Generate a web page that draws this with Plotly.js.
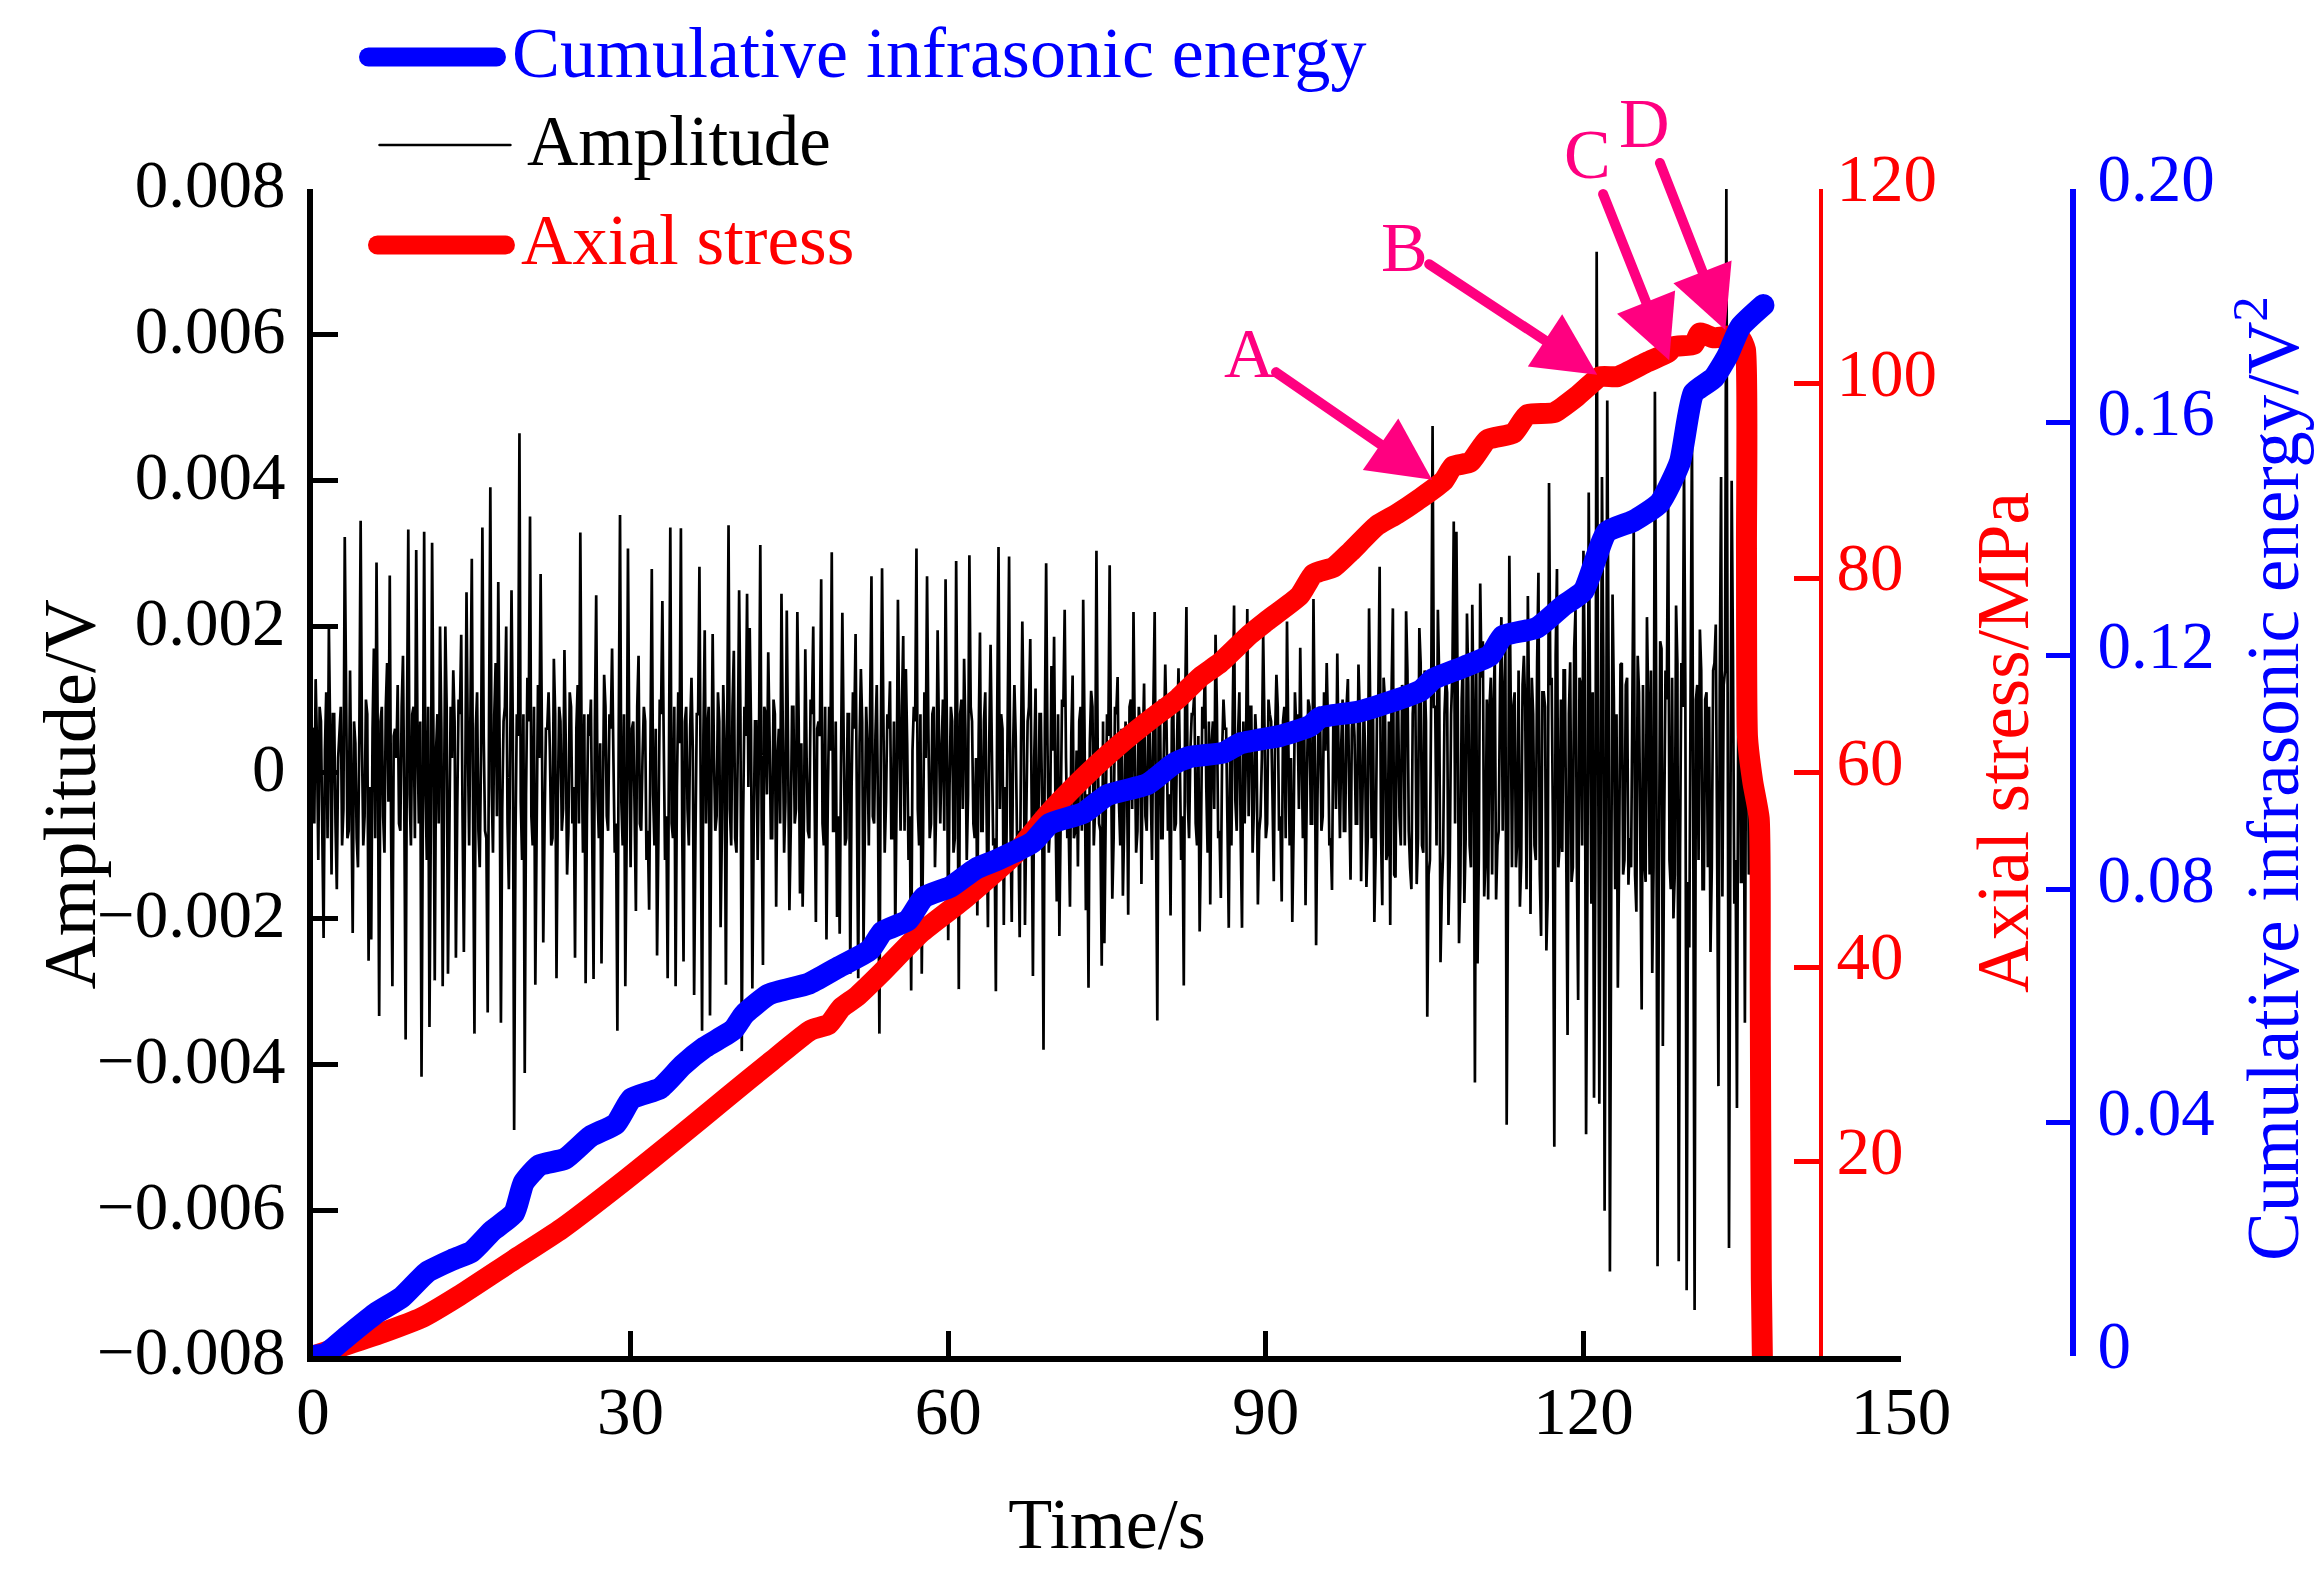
<!DOCTYPE html>
<html>
<head>
<meta charset="utf-8">
<script src="https://cdn.plot.ly/plotly-3.0.1.min.js"></script>
<style>
html,body{margin:0;padding:0;background:#fff}
.js-line,.shapelayer path,.annotation path{stroke-linecap:round}
</style>
</head>
<body>
<div id="chart" style="width:2323px;height:1579px"></div>
<script>
// ---- Data ----
var sampleStep = 0.125; // s between amplitude samples
var amplitudeMilliVolt = [
0.6,1.28,-1.2,0.7,-2.27,1.1,1.99,-1.4,0.8,-1.6,
0.5,-1.0,3.23,-0.9,1.4,-2.2,0.4,-1.3,3.45,-1.0,
1.0,-2.58,-2.29,1.7,2.88,-3.34,0.9,-1.1,1.5,2.7,
-2.93,0.6,1.2,-0.8,1.6,-3.66,3.33,-1.0,0.9,3.05,
-0.7,-4.17,3.3,-1.2,-3.49,3.15,-2.85,0.8,2.0,-2.93,
2.0,-2.76,0.9,1.4,-2.54,1.0,1.89,-2.46,2.47,-1.0,
2.93,-3.58,1.1,-1.3,3.36,-0.8,-3.29,3.91,-1.1,1.5,
2.61,-3.43,0.7,2.0,-1.6,2.5,-4.9,0.8,4.65,-1.2,
-4.12,1.3,3.51,-1.0,-2.91,1.2,2.72,-2.33,0.6,1.1,
-1.0,1.56,-2.82,0.9,-0.8,1.68,-1.4,1.1,-0.7,-2.54,
1.2,3.29,-1.1,-2.89,0.8,1.0,-2.83,2.43,-0.9,-2.62,
1.34,-0.6,0.8,1.7,-1.1,-3.54,3.53,-1.0,-2.93,3.07,
-1.3,0.7,-1.9,1.6,-0.8,0.9,-1.2,-1.88,2.79,-1.0,
-2.51,1.0,2.35,-1.2,-2.82,3.36,-0.9,-2.93,1.1,3.35,
-2.59,0.9,-1.0,1.3,-3.05,0.8,2.82,-3.54,1.95,0.6,
-3.33,1.9,-0.8,1.1,-2.12,1.2,-2.91,3.39,-1.0,1.67,
-1.1,2.5,-3.82,0.9,2.45,1.98,-2.96,0.7,-1.2,3.12,
-2.64,0.8,1.65,-0.9,1.0,-1.84,0.6,2.45,-1.1,2.22,
-1.89,0.9,-0.7,2.2,-1.66,-1.84,1.69,-0.8,1.0,2.0,
-2.05,0.7,2.65,-1.0,-2.29,0.9,3.02,-0.8,-1.98,-2.21,
2.19,-1.0,0.8,-2.76,1.1,1.9,-2.82,1.42,-2.36,0.9,
-1.0,2.69,-0.7,1.2,-3.58,2.8,-1.1,0.8,1.25,-0.9,
-2.21,2.37,-0.8,1.87,1.42,-1.2,-2.99,0.9,3.07,-1.0,
-2.76,1.1,2.69,-0.9,0.8,-1.3,1.95,-0.7,1.0,2.65,
-2.3,0.9,-1.1,2.9,-2.97,1.0,1.56,-1.2,2.98,0.7,
-0.9,-1.96,1.92,-0.8,1.1,-2.12,1.75,-1.0,-3.0,3.09,
0.8,-2.09,-1.0,2.96,-2.05,1.2,-0.9,-2.26,2.07,-2.09,
0.7,1.83,-2.79,1.15,-1.0,0.8,-3.8,2.87,-1.1,
1.46,1.86,-1.77,-2.24,1.0,2.23,-0.9,-1.84,1.33,-0.8,-1.29,
0.9,2.37,-1.89,-2.95,1.12,-1.0,3.04,-0.7,-2.65,-2.34,
0.8,2.84,-1.73,0.9,1.31,-1.0,-1.69,0.7,-1.95,1.0,
2.2,-1.1,0.9,-1.53,1.22,-0.8,0.7,-1.2,2.2,-3.4,
1.0,-0.9,1.48,-0.8,-1.96,1.1,-0.7,1.43,-1.2,-2.92,
2.27,-0.9,0.8,1.1,-1.0,-2.18,0.9,1.51,-1.1,-1.81,
0.7,1.89,-0.9,-1.72,1.0,0.6,-2.13,-1.0,2.29,-0.8,
1.1,-2.13,-0.7,2.24,0.9,-1.1,0.8,-1.81,-0.6,1.89,
-0.9,1.0,0.7,-1.49,1.34,-0.8,-1.77,0.9,2.07,-1.0,
-2.05,1.1,0.8,1.71,-0.9,-1.82,1.0,-0.7,2.38,-2.37,
0.9,-0.8,1.1,1.5,-1.0,-1.61,0.7,1.63,-0.9,1.0,
-0.8,1.28,-1.47,0.9,-0.7,1.48,-1.49,1.0,-1.57,2.25,
-0.9,-2.05,0.8,2.82,-1.82,1.0,-1.1,-2.09,2.25,-1.44,
0.9,-1.0,1.1,2.21,-0.8,-1.6,1.2,-1.53,
1.98,-1.0,1.4,-3.35,-1.2,4.75,0.9,2.23,-2.6,-1.1,
1.3,-2.09,0.8,3.44,3.3,-2.34,1.0,-1.79,2.18,-1.0,
2.3,-4.25,-2.62,2.59,1.8,-1.2,-1.74,1.3,0.9,-1.74,
-0.8,2.13,1.0,-4.83,2.97,-1.3,1.1,-0.9,-1.84,1.2,
0.9,2.42,-1.94,0.8,-1.2,2.74,-2.24,1.1,
-2.44,3.97,1.3,-5.13,2.79,-1.0,-1.09,1.4,-3.6,1.51,
-1.3,2.23,-3.12,1.2,3.04,-4.96,3.84,-1.8,-4.46,7.14,
-4.54,4.05,-6.01,5.1,-6.84,2.44,-1.6,-2.95,1.48,-1.4,
1.2,-1.54,-1.3,3.39,-1.91,1.1,-3.25,-1.2,2.13,
-1.4,-2.75,5.22,-6.77,1.8,-3.75,1.4,3.89,-1.6,-2.0,
2.29,-6.7,1.5,4.25,-7.1,-2.4,4.7,-7.37,1.2,1.96,
-1.6,1.0,-1.3,-2.46,1.4,2.03,-4.3,4.05,1.2,8.0,
-6.52,4.0,-1.8,-4.6,2.0,-1.5,-3.43,1.6,-1.0,3.49,0
];
// lower samples that fill the dense band between the visible spikes
var amplitudeBetween = [
-0.7,0.4,0.9,-0.6,0.3,-0.9,0.5,0.8,-0.7,0.2,0.9,-0.5,0.6,-0.8,-0.3,0.7,-0.9,0.5,0.4,-0.6,
0.8,-0.2,0.6,-0.9,0.3,0.7,-0.6,0.9,-0.4,-0.8,0.5,0.2,-0.7,0.9,-0.5,0.6,-0.3,0.8,-0.9,0.4,
0.7,-0.6,-0.2,0.9,-0.8,0.5,0.3,-0.7,0.6,-0.4,0.9,-0.9,0.2,0.7,-0.5,0.8,-0.6,-0.3,0.4,0.9,
-0.7,0.6,-0.8,0.3,0.5,-0.9,0.7,-0.2,0.8,-0.6,0.4,-0.5,0.9,-0.7,0.3,0.6,-0.9,0.5,-0.4,0.8,
-0.3,0.7,-0.6,0.9,-0.8,0.2,0.5,-0.7,0.6,0.3,-0.9,0.8,-0.4,0.7,-0.5,0.4,-0.8,0.9,-0.2,0.6,
-0.7,0.3,0.8,-0.6,0.5,-0.9,0.7,-0.3,0.4,-0.5,0.9,-0.8,0.6,0.2,-0.7,0.5,-0.4,0.8,-0.9,0.3,
0.6,-0.5,0.9,-0.7,0.2,0.7,-0.8,0.4,-0.3,0.6,-0.9,0.8,0.5,-0.6,0.3,-0.7,0.9,-0.2,0.4,-0.8,
0.7,-0.5,0.6,0.3,-0.9,0.8,-0.4,0.5,-0.7,0.9,-0.3,0.2,-0.6,0.7,-0.8,0.4,0.6,-0.5,0.9,-0.9,
0.3,0.8,-0.7,0.5,-0.2,0.6,-0.8,0.7,0.4,-0.6,0.9,-0.3,0.5,-0.9,0.8,0.2,-0.7,0.6,-0.4,0.3,
-0.8,0.9,-0.5,0.7,0.4,-0.6,0.2,-0.9,0.8,-0.3,0.6,0.5,-0.7,0.9,-0.4,0.3,-0.8,0.7,-0.6,0.2,
0.5,-0.9,0.8,-0.2,0.6,-0.5,0.4,0.7,-0.8,0.3,0.9,-0.6,0.5,-0.7,0.2,0.8,-0.4,0.6,-0.9,0.7,
-0.3,0.5,0.9,-0.8,0.4,-0.6,0.3,0.7,-0.5,0.8,-0.9,0.2,0.6,-0.7,0.9,-0.4,0.5,0.3,-0.8,0.6,
-0.2,0.7,-0.9,0.4,0.8,-0.5,0.6,-0.3,0.9,-0.7,0.2,0.5,-0.8,0.7,-0.6,0.4,0.3,-0.9,0.8,-0.5,
0.6,-0.2,0.9,-0.7,0.3,0.5,-0.8,0.4,0.7,-0.6,0.9,-0.3,0.2,-0.9,0.8,-0.5,0.6,0.4,-0.7,0.3,
-0.4,0.8,-0.6,0.9,0.2,-0.7,0.5,-0.9,0.3,0.7,-0.8,0.6,-0.3,0.4,0.9,-0.5,0.2,-0.8,0.7,-0.6,
0.5,0.3,-0.9,0.8,-0.4,0.6,-0.7,0.2,0.9,-0.5,0.4,-0.8,0.7,0.3,-0.6,0.5,-0.2,0.9,-0.7,0.8,
-0.9,0.4,0.6,-0.3,0.7,-0.8,0.5,0.2,-0.6,0.9,-0.4,0.3,0.8,-0.7,0.5,-0.9,0.6,-0.2,0.7,0.4,
-0.5,0.9,-0.8,0.3,0.6,-0.7,0.2,0.8,-0.4,0.5,-0.9,0.7,0.3,-0.6,0.9,-0.5,0.4,-0.8,0.2,0.6,
-0.7,0.8,-0.3,0.5,0.9,-0.6,0.7,-0.9,0.4,0.2,-0.8,0.6,-0.5,0.3,0.7,-0.2,0.9,-0.7,0.5,-0.4,
0.8,-0.6,0.3,0.6,-0.9,0.7,-0.5,0.2,0.4,-0.8,0.9,-0.3,0.6,0.5,-0.7,0.8,-0.4,0.3,-0.9,0.7,
0.9,-1.1,1.0,-0.8,1.3,-1.2,0.7,1.1,-1.4,0.9,-0.6,1.2,-1.0,1.4,-1.3,0.8,1.0,-0.9,1.5,-1.1,
0.7,-1.4,1.2,0.9,-1.0,1.3,-1.6,0.8,1.1,-1.2,1.4,-0.7,1.0,-1.5,1.6,-0.9,1.2,-1.3,0.8,1.5,
-1.1,1.3,-1.7,1.0,0.9,-1.4,1.6,-1.0,1.2,-0.8,1.7,-1.5,1.1,0.9,-1.3,1.4,-1.2,1.6,-1.6,0.8,
1.3,-1.0,1.5,-1.4,1.1,0.9,-1.7,1.2,-0.9,1.6,-1.3,1.0,1.4,-1.1,0.8,-1.5,1.7,-1.2,1.3,-1.0,
1.5,-1.6,0.9,1.1,-1.4,1.2,-0.8,1.6,-1.3,1.4,-1.7,1.0,0.8,-1.1,1.5,-1.2,1.3,-0.9,1.0,-1.4,
1.6,-1.0,1.2,-1.5,0.9,1.4,-1.3,1.1,-1.6,1.7,-0.8,1.0,-1.2,1.3,-1.4,1.5,-1.1,0.9,1.2,-1.5,
1.3,-0.9,1.0,-1.2,1.4,-1.6,1.1,0.9,-1.3,1.5,-1.0,1.2,-1.7,1.4,0.8,-1.1,1.6,-1.2,1.0,-1.5,
0.9,1.3,-1.4,1.1,-0.8,1.5,-1.3,1.2,-1.0,1.4,0.9,-1.6,1.3,-1.1,1.0,-1.2,1.5,-0.9,1.1,-1.4
];
var stressTime = [0,3.6,6.6,10.2,13.8,18.7,23.5,29.5,34.3,39.1,43.4,47.0,48.7,49.9,51.4,53.6,57.4,61.4,66.2,69.5,72.8,76,79.4,80.5,81.7,83.8,85.7,88.5,90.1,93.2,94.5,96.4,98,100.5,102.4,104.6,106.8,107.7,109.3,110.9,113.4,114.7,117.2,119.4,121.6,123.2,126,128,128.5,130.4,131,132.3,134,134.8,135.3,135.4,135.5,136,136.6,136.7,136.8,136.9];
var stressMPa = [0,1.3,2.4,3.9,6.2,9.7,13.1,18.1,22.3,26.6,30.4,33.5,34.1,35.8,37,39.3,43.5,46.9,51.5,55.8,59.5,62.7,65.7,66.6,67.6,69.8,71.3,74.2,75.6,78.2,80.4,81.1,82.7,85.4,86.6,88.2,90,91.5,91.9,94.2,94.9,96.8,97,98.7,100.7,100.7,102.2,103.2,103.8,104,105.2,104.7,104.9,104.7,103.5,83,63.6,59,55.3,38,8,0];
var energyTime = [0,1.2,3.3,6,8.4,10.8,13.3,15,16.9,19,19.9,21.4,23.8,26.2,28.6,30.1,32.8,34.9,37,39.7,40.7,43.1,46.8,49.4,52.6,53.8,56.2,57.7,60.2,62.6,64.6,68,69.6,72.8,75,78.8,81.3,82.9,86,87.6,91.4,94.2,95.1,98.9,104.6,105.8,108.4,111.2,112.4,115.6,118.1,120,122.2,124.7,127.2,129.1,130.4,132.3,133.6,134.8,137];
var energyV2 = [0,0.0004,0.0035,0.0074,0.0101,0.0144,0.0166,0.0179,0.0214,0.0245,0.0297,0.0327,0.0338,0.0376,0.0398,0.0441,0.0459,0.0498,0.0529,0.0559,0.0585,0.062,0.0638,0.0664,0.0696,0.0727,0.0747,0.0786,0.0804,0.0835,0.085,0.0881,0.0912,0.0931,0.0961,0.098,0.1015,0.1027,0.1034,0.105,0.1063,0.108,0.1094,0.1105,0.114,0.116,0.1179,0.1201,0.1234,0.1248,0.1286,0.1311,0.1412,0.1431,0.1462,0.1531,0.165,0.1676,0.1714,0.1763,0.1801];
var timeTicks = [0,30,60,90,120,150];
var amplitudeTicks = [0.008,0.006,0.004,0.002,0,-0.002,-0.004,-0.006,-0.008];
var amplitudeTickLabels = ['0.008','0.006','0.004','0.002','0','\u22120.002','\u22120.004','\u22120.006','\u22120.008'];
var stressTicks = [20,40,60,80,100,120];
var energyTicks = [0,0.04,0.08,0.12,0.16,0.20];
var energyTickLabels = ['0','0.04','0.08','0.12','0.16','0.20'];
var markerNames = ['A','B','C','D'];
var markerTime = [105.7,121.3,128.1,133.4];
var markerStress = [90.1,100.9,102.4,105.5];

// ---- Layout constants ----
var W=2323,H=1579,L=312.5,R=2073,T=189,B=1356,XEND=1901,REDX=1821;
var FONT='"Liberation Serif","Times New Roman",serif';
var RED='#ff0000',BLUE='#0000ff',PINK='#ff0080',BLACK='#000000';
function px(x){return (x-L)/(R-L);}
function py(y){return (B-y)/(B-T);}
function label(text,x,y,size,color,angle,xa){
  return {text:text,xref:'paper',yref:'paper',x:px(x),y:py(y),xanchor:xa||'center',yanchor:'middle',
    showarrow:false,textangle:angle||0,font:{family:FONT,size:size,color:color}};
}
function lineShape(x0,x1,y,color,w){
  return {type:'line',xref:'paper',yref:'paper',x0:px(x0),x1:px(x1),y0:py(y),y1:py(y),line:{color:color,width:w}};
}
var labelDx=[-183,-193,-82,-81], labelDy=[-126,-127,-206,-207];
var annotations=[
  label('Cumulative infrasonic energy',510,53,72,BLUE,0,'left'),
  label('Amplitude',525,141,71,BLACK,0,'left'),
  label('Axial stress',519,240,71,RED,0,'left'),
  label('Amplitude/V',69,794,74,BLACK,-90),
  label('Axial stress/MPa',2003,743,73,RED,-90),
  label('Cumulative infrasonic energy/V<sup>2</sup>',2268,778,73,BLUE,-90)
];
markerNames.forEach(function(n,i){
  annotations.push({text:n,xref:'x',yref:'y2',x:markerTime[i],y:markerStress[i],axref:'pixel',ayref:'pixel',
    ax:labelDx[i],ay:labelDy[i],showarrow:true,arrowhead:2,arrowsize:1.25,arrowwidth:10,arrowcolor:PINK,
    font:{family:FONT,size:70,color:PINK}});
});

var tickFont={family:FONT,size:67,color:BLACK};
var amplitudeSeries=[];
amplitudeMilliVolt.forEach(function(v,i){
  amplitudeSeries.push(v/1000);
  if(i<amplitudeMilliVolt.length-1 && i<amplitudeBetween.length){amplitudeSeries.push(amplitudeBetween[i]/1000);}
});
var amplitudeTime=amplitudeSeries.map(function(v,i){return i*sampleStep;});
var traces=[
  {x:amplitudeTime,y:amplitudeSeries,type:'scatter',mode:'lines',name:'Amplitude',
    line:{color:BLACK,width:2.7},yaxis:'y',showlegend:false},
  {x:stressTime,y:stressMPa,type:'scatter',mode:'lines',name:'Axial stress',cliponaxis:false,
    line:{color:RED,width:21,shape:'spline',smoothing:0.5},yaxis:'y2',showlegend:false},
  {x:energyTime,y:energyV2,type:'scatter',mode:'lines',name:'Cumulative infrasonic energy',cliponaxis:false,
    line:{color:BLUE,width:22,shape:'spline',smoothing:0.5},yaxis:'y3',showlegend:false}
];
var layout={
  width:W,height:H,autosize:false,paper_bgcolor:'#fff',plot_bgcolor:'rgba(0,0,0,0)',showlegend:false,
  margin:{l:L,r:W-R,t:T,b:H-B,pad:0},
  font:{family:FONT,color:BLACK},
  xaxis:{domain:[0,(XEND-L)/(R-L)],range:[0,150],tickmode:'array',tickvals:timeTicks,ticktext:timeTicks.map(String),
    showline:true,linecolor:BLACK,linewidth:6,ticks:'inside',ticklen:25,tickwidth:5,tickcolor:BLACK,showgrid:false,zeroline:false,
    tickfont:tickFont,ticklabelstandoff:-8,title:{text:'Time/s',font:{family:FONT,size:72,color:BLACK},standoff:52}},
  yaxis:{range:[-0.008,0.008],tickmode:'array',tickvals:amplitudeTicks,ticktext:amplitudeTickLabels,
    showline:true,linecolor:BLACK,linewidth:6,ticks:'inside',ticklen:25,tickwidth:5,tickcolor:BLACK,showgrid:false,zeroline:false,
    tickfont:tickFont,ticklabelstandoff:8,ticklabelshift:-5},
  yaxis2:{overlaying:'y',anchor:'free',position:px(REDX),side:'right',range:[0,120],tickmode:'array',tickvals:stressTicks,
    ticktext:stressTicks.map(String),showline:true,linecolor:RED,linewidth:4,ticks:'inside',ticklen:25,tickwidth:5,tickcolor:RED,
    showgrid:false,zeroline:false,tickfont:{family:FONT,size:67,color:RED},ticklabelstandoff:0,ticklabelshift:-11},
  yaxis3:{overlaying:'y',anchor:'free',position:1,side:'right',range:[0,0.2],tickmode:'array',tickvals:energyTicks,
    ticktext:energyTickLabels,showline:true,linecolor:BLUE,linewidth:6,ticks:'inside',ticklen:24,tickwidth:5,tickcolor:BLUE,
    showgrid:false,zeroline:false,tickfont:{family:FONT,size:67,color:BLUE},ticklabelstandoff:8,ticklabelshift:-11},
  shapes:[lineShape(368,496,57,BLUE,19),lineShape(379,510,145,BLACK,2.5),lineShape(377,505,245,RED,19)],
  annotations:annotations
};
Plotly.newPlot('chart',traces,layout,{displayModeBar:false,responsive:false});
</script>
</body>
</html>
